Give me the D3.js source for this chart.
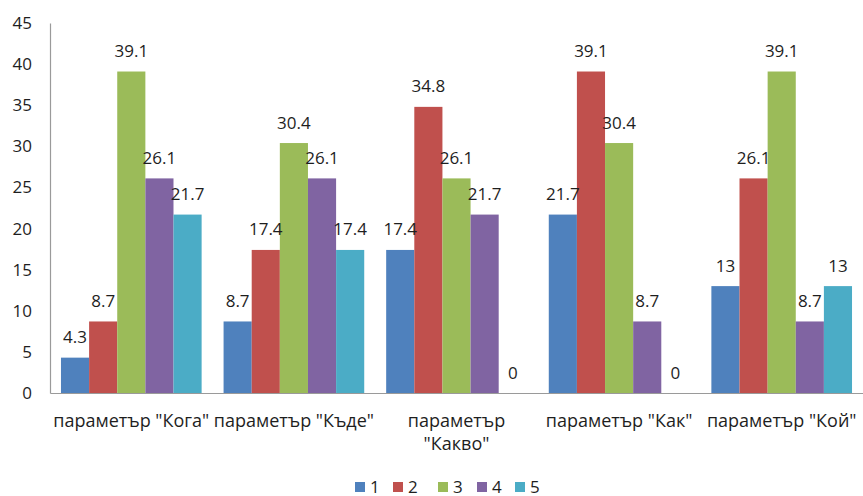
<!DOCTYPE html>
<html>
<head>
<meta charset="utf-8">
<script src="https://cdn.jsdelivr.net/npm/d3@7"></script>
<style>
  html, body { margin: 0; padding: 0; background: #fff; }
  svg { display: block; font-family: "Open Sans", "Noto Sans", sans-serif; }
</style>
</head>
<body>
<svg id="chart" width="863" height="496"></svg>
<script>
// Categories (x axis) and the five answer series
const categories = [
  ['параметър "Кога"'],
  ['параметър "Къде"'],
  ['параметър', '"Какво"'],
  ['параметър "Как"'],
  ['параметър "Кой"']
];
const seriesNames = ["1", "2", "3", "4", "5"];
const series1 = [4.3, 8.7, 17.4, 21.7, 13];
const series2 = [8.7, 17.4, 34.8, 39.1, 26.1];
const series3 = [39.1, 30.4, 26.1, 30.4, 39.1];
const series4 = [26.1, 26.1, 21.7, 8.7, 8.7];
const series5 = [21.7, 17.4, 0, 0, 13];
const yTicks = [0, 5, 10, 15, 20, 25, 30, 35, 40, 45];
const colors = ["#4F81BD", "#C0504D", "#9BBB59", "#8064A2", "#4BACC6"];

const allSeries = [series1, series2, series3, series4, series5];
const svg = d3.select("#chart");
const margin = { left: 50, right: 0, top: 23, bottom: 103 };
const W = 863, H = 496;
const textColor = "#1e1e1e";
const fontSize = 17;
const catFontSize = 18;

const x0 = d3.scaleBand()
  .domain(d3.range(categories.length))
  .range([margin.left, W - margin.right])
  .paddingInner(0.135)
  .paddingOuter(0.0675);
const x1 = d3.scaleBand()
  .domain(d3.range(seriesNames.length))
  .range([0, x0.bandwidth()]);
const y = d3.scaleLinear().domain([0, 45]).range([H - margin.bottom, margin.top]);

// Bars
const groups = svg.append("g").selectAll("g")
  .data(categories.map((c, i) => i))
  .join("g")
  .attr("transform", i => `translate(${x0(i)},0)`);

groups.selectAll("rect")
  .data(i => allSeries.map((s, k) => ({ k, v: s[i] })))
  .join("rect")
  .attr("x", d => x1(d.k))
  .attr("width", x1.bandwidth())
  .attr("y", d => y(d.v))
  .attr("height", d => y(0) - y(d.v))
  .attr("fill", d => colors[d.k]);

// Value labels above bars
groups.selectAll("text")
  .data(i => allSeries.map((s, k) => ({ k, v: s[i] })))
  .join("text")
  .attr("x", d => x1(d.k) + x1.bandwidth() / 2)
  .attr("y", d => y(d.v) - 14.5)
  .attr("text-anchor", "middle")
  .attr("font-size", fontSize)
  .attr("fill", textColor)
  .text(d => String(d.v));

// Y axis (line only, labels on the left)
const yAxis = svg.append("g")
  .attr("transform", `translate(${margin.left},0)`)
  .call(d3.axisLeft(y).tickValues(yTicks).tickSize(0).tickPadding(18).tickFormat(d3.format("d")));
yAxis.select(".domain").attr("stroke", "#9a9a9a").attr("stroke-width", 1.2);
yAxis.selectAll("text").attr("font-size", fontSize).attr("fill", textColor)
  .attr("font-family", "Open Sans, Noto Sans, sans-serif");

// X axis
const xAxis = svg.append("g")
  .attr("transform", `translate(0,${y(0)})`)
  .call(d3.axisBottom(x0).tickSize(0).tickFormat(""));
xAxis.select(".domain").attr("stroke", "#9a9a9a").attr("stroke-width", 1.2);

xAxis.selectAll(".tick").each(function (i) {
  const t = d3.select(this).append("text")
    .attr("text-anchor", "middle")
    .attr("font-size", catFontSize)
    .attr("fill", textColor)
    .attr("font-family", "Open Sans, Noto Sans, sans-serif");
  categories[i].forEach((line, j) => {
    t.append("tspan").attr("x", 0).attr("y", 34 + j * 23).text(line);
  });
});

// Legend
const legendX = [355, 393, 438, 477, 515];
const legend = svg.append("g");
seriesNames.forEach((name, k) => {
  const g = legend.append("g").attr("transform", `translate(${legendX[k]},482)`);
  g.append("rect").attr("width", 10).attr("height", 10).attr("fill", colors[k]);
  g.append("text").attr("x", 15).attr("y", 10.5).attr("font-size", fontSize)
    .attr("fill", textColor).text(name);
});
</script>
</body>
</html>
